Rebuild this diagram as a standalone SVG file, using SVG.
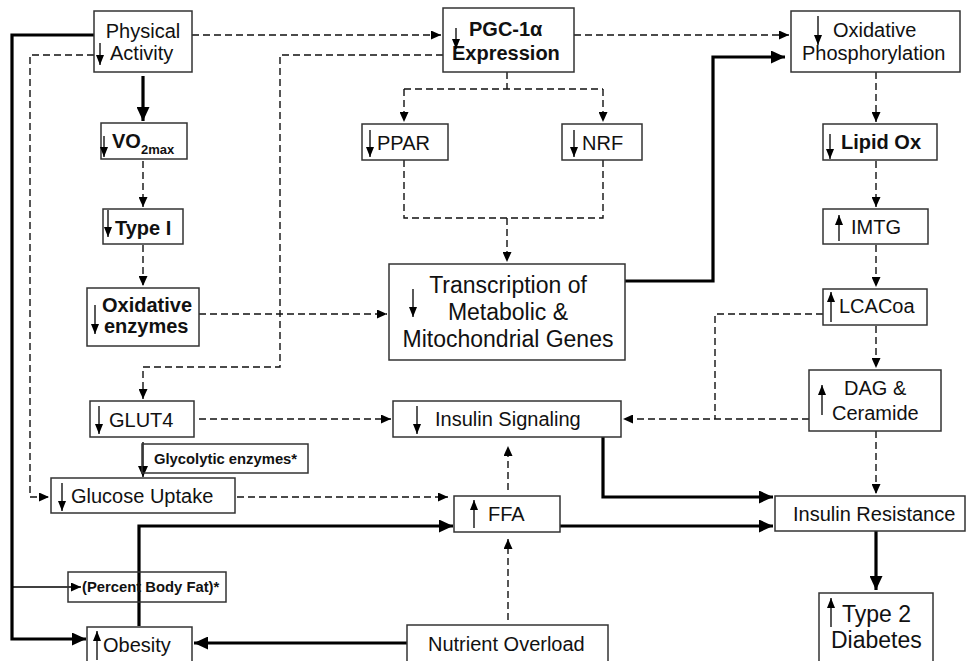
<svg xmlns="http://www.w3.org/2000/svg" width="966" height="661" viewBox="0 0 966 661">
<defs>
<style>
.box{fill:#fff;stroke:#333;stroke-width:1.5}
.open{fill:none;stroke:#333;stroke-width:1.5}
.t{font-family:"Liberation Sans",Arial,sans-serif;font-size:20px;fill:#111}
.b{font-weight:bold}
.sm{font-size:14.8px}
.big{font-size:23px}
.dash{fill:none;stroke:#111;stroke-width:1.4;stroke-dasharray:7 4}
.thick{fill:none;stroke:#000;stroke-width:3.2}
.thin{fill:none;stroke:#000;stroke-width:1.4}
.gl{fill:none;stroke:#000;stroke-width:1.3}
</style>
<marker id="ad" markerUnits="userSpaceOnUse" markerWidth="11" markerHeight="9" refX="10" refY="4.5" orient="auto"><path d="M0,0 L10,4.5 L0,9 z" fill="#000"/></marker>
<marker id="am" markerUnits="userSpaceOnUse" markerWidth="12" markerHeight="11" refX="11" refY="5" orient="auto"><path d="M0,0 L11,5 L0,10 z" fill="#000"/></marker>
<marker id="at" markerUnits="userSpaceOnUse" markerWidth="15" markerHeight="13" refX="14" refY="6.5" orient="auto"><path d="M0,0 L14,6.5 L0,13 z" fill="#000"/></marker>
<marker id="ag" markerUnits="userSpaceOnUse" markerWidth="11" markerHeight="9" refX="10" refY="4" orient="auto"><path d="M0,0 L10,4 L0,8 z" fill="#000"/></marker>
</defs>
<rect width="966" height="661" fill="#fff"/>

<g id="connectors">
<path class="dash" d="M192,35 H441" marker-end="url(#ad)"/>
<path class="dash" d="M94,55 H30 V497 H49" marker-end="url(#ad)"/>
<path class="thick" d="M94,35 H12 V639 H86" marker-end="url(#at)"/>
<path class="thick" d="M143,76 V121" marker-end="url(#at)"/>
<path class="dash" d="M143,161 V207" marker-end="url(#ad)"/>
<path class="dash" d="M143,245 V286" marker-end="url(#ad)"/>
<path class="dash" d="M199,314 H387" marker-end="url(#ad)"/>
<path class="dash" d="M443,55 H280 V367 H143 V399" marker-end="url(#ad)"/>
<path class="dash" d="M507,72 V89 M404,89 H603"/>
<path class="dash" d="M404,89 V122" marker-end="url(#ad)"/>
<path class="dash" d="M603,89 V122" marker-end="url(#ad)"/>
<path class="dash" d="M404,160 V218 H603 V160"/>
<path class="dash" d="M507,218 V262" marker-end="url(#ad)"/>
<path class="thick" d="M625,281 H713 V57 H785" marker-end="url(#at)"/>
<path class="dash" d="M574,35 H789" marker-end="url(#ad)"/>
<path class="dash" d="M876,72 V122" marker-end="url(#ad)"/>
<path class="dash" d="M876,161 V207" marker-end="url(#ad)"/>
<path class="dash" d="M876,245 V287" marker-end="url(#ad)"/>
<path class="dash" d="M876,326 V368" marker-end="url(#ad)"/>
<path class="dash" d="M823,314 H715 V419"/>
<path class="dash" d="M809,419 H623" marker-end="url(#ad)"/>
<path class="dash" d="M199,419 H391" marker-end="url(#ad)"/>
<path class="thin" d="M143,442 V477" marker-end="url(#am)"/>
<path class="dash" d="M237,497 H448" marker-end="url(#ad)"/>
<path class="thick" d="M139,626 V526 H453" marker-end="url(#at)"/>
<path class="dash" d="M508,490 V446" marker-end="url(#ad)"/>
<path class="dash" d="M508,620 V539" marker-end="url(#ad)"/>
<path class="thick" d="M407,643 H194" marker-end="url(#at)"/>
<path class="thin" d="M12,587 H81" marker-end="url(#ad)"/>
<path class="thick" d="M603,437 V497 H773" marker-end="url(#at)"/>
<path class="thick" d="M560,526 H773" marker-end="url(#at)"/>
<path class="dash" d="M876,431 V494" marker-end="url(#ad)"/>
<path class="thick" d="M876,531 V590" marker-end="url(#at)"/>
</g>

<g id="physical-activity">
<rect class="box" x="94" y="11" width="98" height="61"/>
<text class="t" x="143" y="38" text-anchor="middle">Physical</text>
<text class="t" x="110" y="60">Activity</text>
<path class="gl" d="M100,43 V65" marker-end="url(#ag)"/>
</g>

<g id="vo2max">
<rect class="box" x="101" y="123" width="86" height="36"/>
<text class="t b" x="112" y="148">VO<tspan font-size="13" dy="6">2max</tspan></text>
<path class="gl" d="M104,136 V157" marker-end="url(#ag)"/>
</g>

<g id="type-i">
<rect class="box" x="103" y="209" width="80" height="35"/>
<text class="t b" x="115" y="235">Type I</text>
<path class="gl" d="M108,210 V237" marker-end="url(#ag)"/>
</g>

<g id="oxidative-enzymes">
<rect class="box" x="87" y="288" width="112" height="58"/>
<text class="t b" x="102" y="312" font-size="18">Oxidative</text>
<text class="t b" x="104" y="333" font-size="18">enzymes</text>
<path class="gl" d="M95,305 V334" marker-end="url(#ag)"/>
</g>

<g id="pgc1a">
<rect class="box" x="443" y="8" width="131" height="64"/>
<text class="t b" x="469" y="36">PGC-1α</text>
<text class="t b" x="452" y="60">Expression</text>
<path class="gl" d="M456,28 V49" marker-end="url(#ag)"/>
</g>

<g id="ppar">
<rect class="box" x="362" y="124" width="86" height="36"/>
<text class="t" x="377" y="150">PPAR</text>
<path class="gl" d="M370,130 V157" marker-end="url(#ag)"/>
</g>

<g id="nrf">
<rect class="box" x="562" y="124" width="80" height="36"/>
<text class="t" x="582" y="150">NRF</text>
<path class="gl" d="M574,130 V157" marker-end="url(#ag)"/>
</g>

<g id="oxidative-phosphorylation">
<rect class="box" x="791" y="11" width="169" height="61"/>
<text class="t" x="833" y="37">Oxidative</text>
<text class="t" x="802" y="60">Phosphorylation</text>
<path class="gl" d="M818,16 V45" marker-end="url(#ag)"/>
</g>

<g id="lipid-ox">
<rect class="box" x="823" y="124" width="114" height="36"/>
<text class="t b" x="841" y="149">Lipid Ox</text>
<path class="gl" d="M830,134 V159" marker-end="url(#ag)"/>
</g>

<g id="imtg">
<rect class="box" x="823" y="209" width="105" height="35"/>
<text class="t" x="851" y="234">IMTG</text>
<path class="gl" d="M839,241 V215" marker-end="url(#ag)"/>
</g>

<g id="lcacoa">
<rect class="box" x="823" y="289" width="104" height="36"/>
<text class="t" x="839" y="313">LCACoa</text>
<path class="gl" d="M831,322 V292" marker-end="url(#ag)"/>
</g>

<g id="dag-ceramide">
<rect class="box" x="809" y="370" width="132" height="61"/>
<text class="t" x="844" y="395">DAG &amp;</text>
<text class="t" x="832" y="420">Ceramide</text>
<path class="gl" d="M822,415 V385" marker-end="url(#ag)"/>
</g>

<g id="transcription">
<rect class="box" x="389" y="264" width="236" height="96"/>
<text class="t big" x="508" y="293" text-anchor="middle">Transcription of</text>
<text class="t big" x="508" y="320" text-anchor="middle">Metabolic &amp;</text>
<text class="t big" x="508" y="347" text-anchor="middle">Mitochondrial Genes</text>
<path class="gl" d="M413,289 V317" marker-end="url(#ag)"/>
</g>

<g id="glut4">
<rect class="box" x="90" y="401" width="104" height="36"/>
<text class="t" x="109" y="427">GLUT4</text>
<path class="gl" d="M99,406 V434" marker-end="url(#ag)"/>
</g>

<g id="insulin-signaling">
<rect class="box" x="393" y="401" width="228" height="36"/>
<text class="t" x="435" y="426">Insulin Signaling</text>
<path class="gl" d="M417,406 V434" marker-end="url(#ag)"/>
</g>

<g id="glycolytic-enzymes">
<rect class="open" x="142" y="444" width="166" height="29"/>
<text class="t b sm" x="154" y="464">Glycolytic enzymes*</text>
</g>

<g id="glucose-uptake">
<rect class="box" x="51" y="478" width="184" height="35"/>
<text class="t" x="71" y="503">Glucose Uptake</text>
<path class="gl" d="M62,483 V511" marker-end="url(#ag)"/>
</g>

<g id="ffa">
<rect class="box" x="454" y="496" width="106" height="36"/>
<text class="t" x="488" y="521">FFA</text>
<path class="gl" d="M474,528 V500" marker-end="url(#ag)"/>
</g>

<g id="insulin-resistance">
<rect class="box" x="775" y="496" width="190" height="35"/>
<text class="t" x="793" y="521">Insulin Resistance</text>
</g>

<g id="percent-body-fat">
<rect class="open" x="68" y="572" width="158" height="30"/>
<text class="t b sm" x="82" y="592">(Percent Body Fat)*</text>
</g>

<g id="obesity">
<rect class="box" x="87" y="627" width="105" height="40"/>
<text class="t" x="103" y="652" font-size="21">Obesity</text>
<path class="gl" d="M97,660 V631" marker-end="url(#ag)"/>
</g>

<g id="nutrient-overload">
<rect class="box" x="407" y="625" width="201" height="40"/>
<text class="t" x="428" y="651">Nutrient Overload</text>
</g>

<g id="type2-diabetes">
<rect class="box" x="819" y="593" width="114" height="75"/>
<text class="t big" x="842" y="622">Type 2</text>
<text class="t big" x="831" y="648">Diabetes</text>
<path class="gl" d="M831,627 V598" marker-end="url(#ag)"/>
</g>
</svg>
